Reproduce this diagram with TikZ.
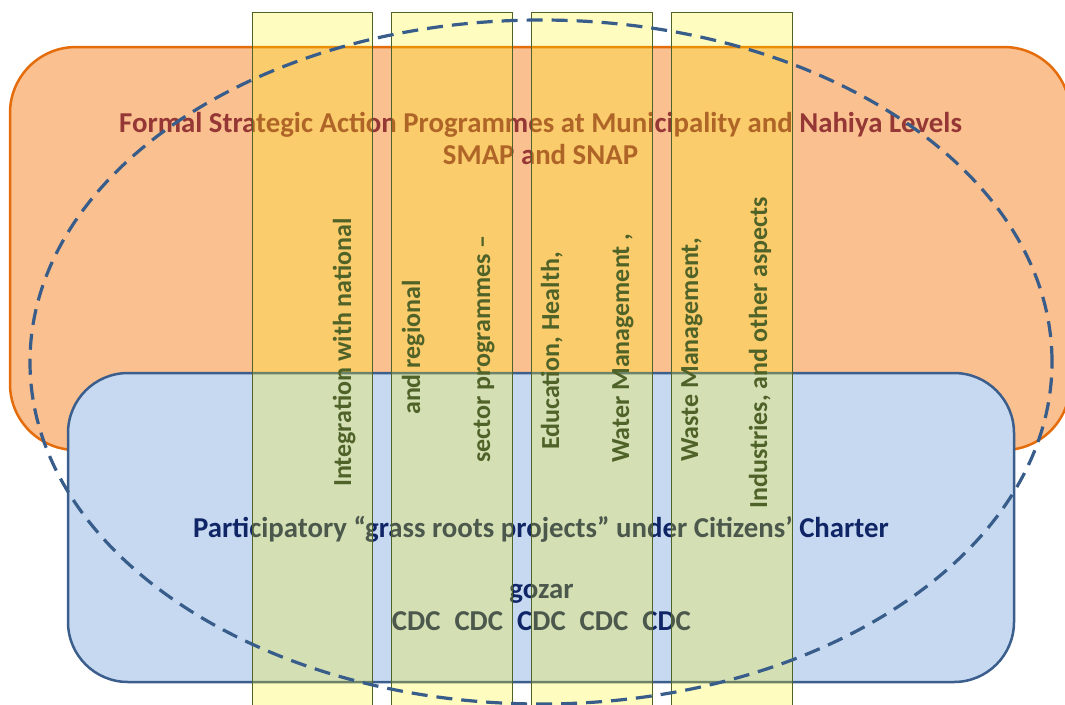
\documentclass[tikz,border=0pt]{standalone}
\usepackage{fontspec}
\setmainfont{Carlito}
\usetikzlibrary{shapes.geometric}
\definecolor{orfill}{HTML}{FAC090}
\definecolor{ordraw}{HTML}{E46C0A}
\definecolor{blfill}{HTML}{C6D9F1}
\definecolor{bldraw}{HTML}{3B5E8C}
\definecolor{olive}{HTML}{4F6228}
\definecolor{titlered}{HTML}{953735}
\definecolor{navy}{HTML}{0F2565}
\definecolor{ellcol}{HTML}{385D8A}
\tikzset{
  bigbox/.style={draw, line width=2.5pt, inner sep=0pt},
  strip/.style={draw=olive, line width=1pt, fill=yellow, fill opacity=0.25, draw opacity=1,
    minimum width=120pt, minimum height=708pt, inner sep=0pt},
  boldtxt/.style={font=\fontsize{28.8}{34}\selectfont\bfseries, inner sep=0pt, anchor=base},
  vtxt/.style={font=\fontsize{26}{31}\selectfont\bfseries, text=olive, rotate=90, inner sep=0pt, anchor=base west},
}
\begin{document}
\begin{tikzpicture}[x=1pt,y=-1pt]
\useasboundingbox (0,0) rectangle (1065,704);
\clip (0,0) rectangle (1065,704);
% boxes
\node[bigbox, draw=ordraw, fill=orfill, minimum width=1060pt, minimum height=403pt, rounded corners=66pt] (formal) at (540,248.5) {};
\node[bigbox, draw=bldraw, fill=blfill, minimum width=946pt, minimum height=309pt, rounded corners=60pt] (grass) at (541,527.5) {};
% texts in the boxes
\node[boldtxt, text=titlered] (t1) at (540.5,132) {Formal Strategic Action Programmes at Municipality and Nahiya Levels};
\node[boldtxt, text=titlered] (t2) at (540.5,164) {SMAP and SNAP};
\node[boldtxt, text=navy] (p1) at (541,537) {Participatory “grass roots projects” under Citizens’ Charter};
\node[boldtxt, text=navy] (g1) at (541.5,598) {gozar};
\node[boldtxt, text=navy] (c1) at (541.5,630) {CDC\hspace{14pt}CDC\hspace{14pt}CDC\hspace{14pt}CDC\hspace{14pt}CDC};
% strips
\node[strip] (s1) at (312,366) {};
\node[strip, minimum width=121pt] (s2) at (451.5,366) {};
\node[strip, minimum width=121pt] (s3) at (591.5,366) {};
\node[strip, minimum width=121pt] (s4) at (731.5,366) {};
% vertical texts
\node[vtxt] (v1) at (351,487) {Integration with national};
\node[vtxt] (v2) at (420,415) {and regional};
\node[vtxt] (v3) at (490,463) {sector programmes –};
\node[vtxt] (v4) at (559,450) {Education, Health,};
\node[vtxt] (v5) at (629,463) {Water Management ,};
\node[vtxt] (v6) at (698,462) {Waste Management,};
\node[vtxt] (v7) at (767,509) {Industries, and other aspects};
% dashed ellipse
\node[draw=ellcol, ellipse, line width=3.2pt, dash pattern=on 16pt off 9pt, inner sep=0pt,
  minimum width=1022pt, minimum height=684pt] (ell) at (541,362) {};
\end{tikzpicture}
\end{document}
